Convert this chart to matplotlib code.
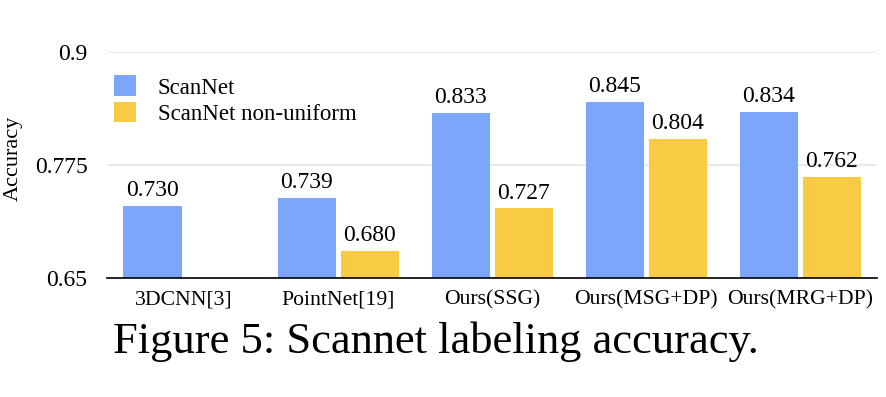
import matplotlib.pyplot as plt
import numpy as np

methods = ["3DCNN[3]", "PointNet[19]", "Ours(SSG)", "Ours(MSG+DP)", "Ours(MRG+DP)"]
scannet = [0.730, 0.739, 0.833, 0.845, 0.834]
scannet_nonuniform = [None, 0.680, 0.727, 0.804, 0.762]
yticks = [0.65, 0.775, 0.9]

plt.rcParams['font.family'] = ['Liberation Serif', 'DejaVu Serif']

blue = '#7ba6fa'
yellow = '#f9cb45'

fig = plt.figure(figsize=(8.87, 3.97), dpi=100)
ax = fig.add_axes([0.1206, 0.2997, 0.8684, 0.5693])

x = np.arange(len(methods))
w = 0.377
off = w / 2 + 0.016

b1 = ax.bar(x - off, scannet, w, color=blue, label='ScanNet', zorder=2)
ny_x = [xi + off for xi, v in zip(x, scannet_nonuniform) if v is not None]
ny_v = [v for v in scannet_nonuniform if v is not None]
b2 = ax.bar(ny_x, ny_v, w, color=yellow, label='ScanNet non-uniform', zorder=2)

for bars in (b1, b2):
    for r in bars:
        ax.text(r.get_x() + r.get_width() / 2, r.get_height() + 0.005, f"{r.get_height():.3f}",
                ha='center', va='bottom', fontsize=17, clip_on=False)

ax.set_xlim(-0.5, len(methods) - 0.5)
ax.set_ylim(0.65, 0.9)
ax.set_yticks(yticks)
ax.set_yticklabels(["0.65", "0.775", "0.9"], fontsize=17)
ax.set_xticks(x)
ax.set_xticklabels(methods, fontsize=15.6)
ax.tick_params(length=0)
ax.tick_params(axis='x', pad=9)
ax.tick_params(axis='y', pad=14)
ax.grid(axis='y', color='#e6e6e6', linewidth=1.2, zorder=0)
for s in ['top', 'right', 'left']:
    ax.spines[s].set_visible(False)
ax.spines['bottom'].set_color('black')
ax.spines['bottom'].set_linewidth(1.2)
ax.spines['bottom'].set_zorder(3)

ax.set_ylabel('Accuracy', fontsize=16)
ax.yaxis.set_label_coords(-0.109, 0.53)

fig.legend(loc='upper left', bbox_to_anchor=(0.129, 0.81), frameon=False, fontsize=16.5,
           handlelength=0.95, handleheight=1.0, handletextpad=0.95, labelspacing=0.15,
           borderaxespad=0, borderpad=0)

fig.text(0.127, 0.14, "Figure 5: Scannet labeling accuracy.", fontsize=32, va='center')

fig.savefig('out.png', dpi=100)
